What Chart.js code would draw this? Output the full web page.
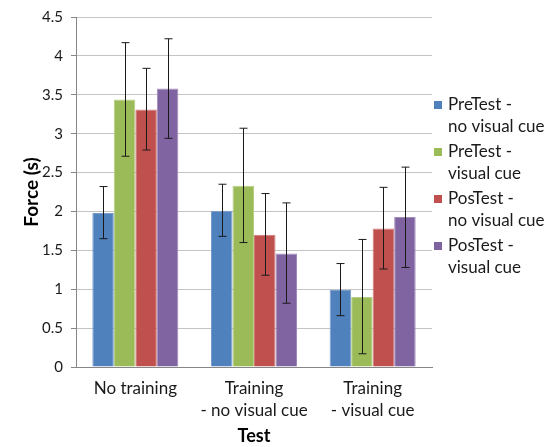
<!DOCTYPE html>
<html>
<head>
<meta charset="utf-8">
<script src="https://cdn.jsdelivr.net/npm/chart.js@4/dist/chart.umd.min.js"></script>
<style>
  html, body { margin: 0; padding: 0; background: #fff; }
  #wrap { width: 556px; height: 447px; }
</style>
</head>
<body>
<div id="wrap"><canvas id="forceChart"></canvas></div>
<script>
// categories and series
const categories = [["No training"], ["Training", "- no visual cue"], ["Training", "- visual cue"]];
const seriesNames = [["PreTest -", "no visual cue"], ["PreTest -", "visual cue"], ["PosTest -", "no visual cue"], ["PosTest -", "visual cue"]];
const preNoCue = [1.98, 2.01, 0.99];
const preCue = [3.44, 2.33, 0.90];
const posNoCue = [3.31, 1.70, 1.78];
const posCue = [3.58, 1.46, 1.93];
// error bar ends, low / high
const preNoCueLow = [1.65, 1.68, 0.66];
const preNoCueHigh = [2.32, 2.35, 1.33];
const preCueLow = [2.71, 1.60, 0.17];
const preCueHigh = [4.17, 3.07, 1.64];
const posNoCueLow = [2.79, 1.18, 1.26];
const posNoCueHigh = [3.84, 2.23, 2.31];
const posCueLow = [2.94, 0.82, 1.28];
const posCueHigh = [4.22, 2.11, 2.57];
const yTicks = [0, 0.5, 1, 1.5, 2, 2.5, 3, 3.5, 4, 4.5];

const fontFamily = "Lato, 'Open Sans', sans-serif";
const colors = ["#4F81BD", "#9BBB59", "#C0504D", "#8064A2"];
const borders = ["#7A9CCB", "#B5CE85", "#D07A78", "#A08BBB"];

const values = [preNoCue, preCue, posNoCue, posCue];
const lows = [preNoCueLow, preCueLow, posNoCueLow, posCueLow];
const highs = [preNoCueHigh, preCueHigh, posNoCueHigh, posCueHigh];

// error bars drawn after the bars
const errorBars = {
  id: "errorBars",
  afterDatasetsDraw(chart) {
    const ctx = chart.ctx;
    const y = chart.scales.y;
    ctx.save();
    ctx.strokeStyle = "#1a1a1a";
    ctx.lineWidth = 1;
    chart.data.datasets.forEach((ds, i) => {
      const meta = chart.getDatasetMeta(i);
      meta.data.forEach((bar, j) => {
        const x = Math.round(bar.x) + 0.5;
        const yl = y.getPixelForValue(ds.low[j]);
        const yh = y.getPixelForValue(ds.high[j]);
        ctx.beginPath();
        ctx.moveTo(x, yl); ctx.lineTo(x, yh);
        ctx.moveTo(x - 4, yl); ctx.lineTo(x + 4, yl);
        ctx.moveTo(x - 4, yh); ctx.lineTo(x + 4, yh);
        ctx.stroke();
      });
    });
    ctx.restore();
  }
};

// legend on the right with two-line labels
const sideLegend = {
  id: "sideLegend",
  afterDraw(chart) {
    const ctx = chart.ctx;
    ctx.save();
    ctx.font = "17px " + fontFamily;
    ctx.textBaseline = "middle";
    chart.data.datasets.forEach((ds, i) => {
      const top = 105 + i * 47;
      ctx.fillStyle = ds.backgroundColor;
      ctx.fillRect(434, top - 4, 8, 8);
      ctx.fillStyle = "#1a1a1a";
      ds.label.forEach((line, k) => ctx.fillText(line, 448, top + k * 22));
    });
    ctx.restore();
  }
};

new Chart(document.getElementById("forceChart"), {
  type: "bar",
  data: {
    labels: categories,
    datasets: values.map((v, i) => ({
      label: seriesNames[i],
      data: v,
      low: lows[i],
      high: highs[i],
      backgroundColor: colors[i],
      borderColor: borders[i],
      borderWidth: 1,
      categoryPercentage: 0.725,
      barPercentage: 1.0
    }))
  },
  options: {
    responsive: true,
    maintainAspectRatio: false,
    animation: false,
    layout: { padding: { top: 15, right: 124, left: 0, bottom: 0 } },
    plugins: {
      legend: { display: false },
      tooltip: { enabled: false }
    },
    scales: {
      x: {
        grid: { display: false, drawTicks: false },
        border: { color: "#868686" },
        ticks: { color: "#1a1a1a", font: { family: fontFamily, size: 17, lineHeight: 1.3 }, padding: 10, maxRotation: 0 },
        title: { display: true, text: "Test", color: "#000", font: { family: fontFamily, size: 18, weight: "bold" }, padding: { top: 2, bottom: 0 } },
        afterFit(scale) { scale.height = 80; }
      },
      y: {
        min: 0,
        max: 4.5,
        afterBuildTicks(scale) { scale.ticks = yTicks.map(v => ({ value: v })); },
        grid: { color: "#c4c4c4", tickLength: 5, tickColor: "#868686" },
        border: { color: "#868686" },
        ticks: { color: "#1a1a1a", font: { family: fontFamily, size: 15 }, padding: 8, callback: v => String(v) },
        title: { display: true, text: "Force (s)", color: "#000", font: { family: fontFamily, size: 19, weight: "bold" }, padding: { top: 20, bottom: 6 } },
        afterFit(scale) { scale.width = 76; }
      }
    }
  },
  plugins: [errorBars, sideLegend]
});
</script>
</body>
</html>
